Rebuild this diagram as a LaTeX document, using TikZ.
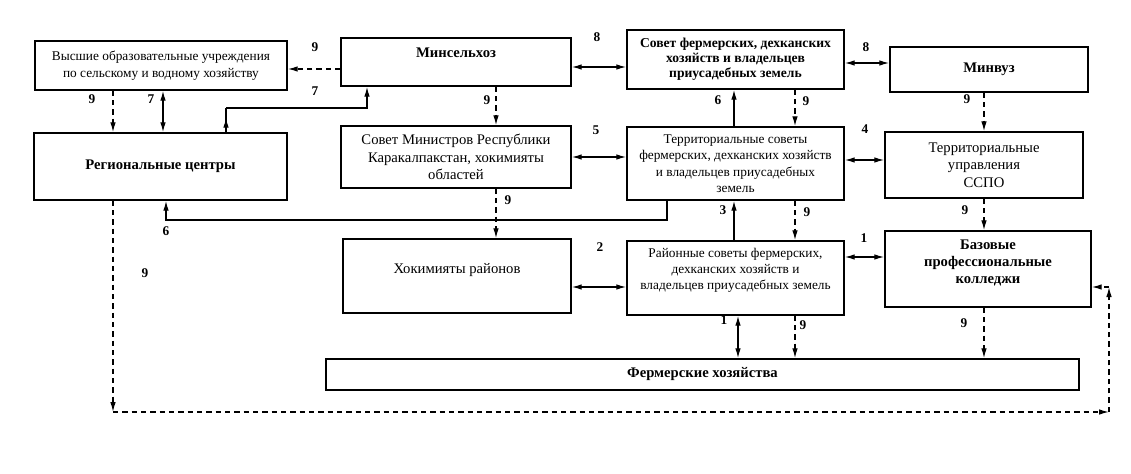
\documentclass[tikz,border=0pt]{standalone}
\usepackage{fontspec}
\setmainfont{Liberation Serif}
\usetikzlibrary{arrows.meta,decorations.markings}
\begin{document}
\begin{tikzpicture}[x=0.75pt,y=-0.75pt,
  box/.style={draw, line width=1.1pt, inner sep=1pt, align=center, font=\fontsize{11}{13}\selectfont},
  sbox/.style={box, font=\fontsize{10}{12.3}\selectfont},
  bbox/.style={box, font=\bfseries\fontsize{11}{12.5}\selectfont},
  txt/.style={inner sep=0pt, align=center, font=\fontsize{11}{13}\selectfont},
  stxt/.style={txt, font=\fontsize{10}{12}\selectfont},
  btxt/.style={txt, font=\bfseries\fontsize{11}{12.5}\selectfont},
  sz/.style args={#1/#2}{minimum width=#1*0.75pt, minimum height=#2*0.75pt},
  num/.style={font=\bfseries\fontsize{10}{12}\selectfont, inner sep=0pt},
  tipk/.tip={Latex[length=7.5pt,width=4.2pt]},
  con/.style={line width=1pt, -tipk},
  dcon/.style={con, dash pattern=on 4pt off 3pt},
  bcon/.style={line width=1pt, tipk-tipk},
  plainln/.style={line width=1pt},
  midarrow/.style={postaction={decorate}, decoration={markings, mark=at position #1 with {\arrow{tipk}}}}
]
\useasboundingbox (0,0) rectangle (1131,474);

% boxes
\node[sbox, sz=252/49] (vys) at (161,65.5) {Высшие образовательные учреждения\\по сельскому и водному хозяйству};
\node[box, sz=230/48] (min) at (456,62) {};
\node[btxt] (minT) at (456,53) {Минсельхоз};
\node[bbox, sz=217/59, font=\bfseries\fontsize{10.2}{11.4}\selectfont] (sf) at (735.5,59.5) {Совет фермерских, дехканских\\хозяйств и владельцев\\приусадебных земель};
\node[bbox, sz=198/45] (mvz) at (989,69.5) {Минвуз};
\node[bbox, sz=253/67] (reg) at (160.5,166.5) {Региональные центры};
\node[box, sz=230/62] (sm) at (456,157) {Совет Министров Республики\\Каракалпакстан, хокимияты\\областей};
\node[sbox, sz=217/73] (ts) at (735.5,163.5) {Территориальные советы\\фермерских, дехканских хозяйств\\и владельцев приусадебных\\земель};
\node[box, sz=198/66] (sspo) at (984,165) {Территориальные\\управления\\ССПО};
\node[box, sz=228/74] (khok) at (457,276) {};
\node[txt] (khokT) at (457,270) {Хокимияты районов};
\node[box, sz=217/74] (rs) at (735.5,278) {};
\node[stxt] (rsT) at (735.5,270) {Районные советы фермерских,\\дехканских хозяйств и\\владельцев приусадебных земель};
\node[box, sz=206/76] (bk) at (988,269) {};
\node[btxt] (bkT) at (988,263) {Базовые\\профессиональные\\колледжи};
\node[bbox, sz=753/31] (fh) at (702.5,374.5) {Фермерские хозяйства};

% helper coordinates
\coordinate (yMV) at (0,69);
\coordinate (yMS) at (0,67);
\coordinate (ySM) at (0,63);
\coordinate (yST) at (0,157);
\coordinate (yTS) at (0,160);
\coordinate (yKR) at (0,287);
\coordinate (yRB) at (0,257);
\coordinate (xA) at (113,0);
\coordinate (xB) at (163,0);
\coordinate (xE) at (496,0);
\coordinate (xF) at (734,0);
\coordinate (xG) at (795,0);
\coordinate (xH) at (984,0);
\coordinate (xK) at (738,0);
\coordinate (c1) at (226,108);
\coordinate (c2) at (367,108);
\coordinate (c3) at (667,220);
\coordinate (c4) at (166,220);
\coordinate (d1) at (113,412);
\coordinate (d2) at (1109,412);
\coordinate (d3) at (1109,287);

% connectors
\draw[dcon] (min.west |- yMV) -- (vys.east |- yMV);
\draw[dcon] (vys.south -| xA) -- (reg.north -| xA);
\draw[bcon] (vys.south -| xB) -- (reg.north -| xB);
\draw[plainln, midarrow=0.6] (reg.north -| c1) -- (c1);
\draw[con] (c1) -- (c2) -- (min.south -| c2);
\draw[bcon] (min.east |- yMS) -- (sf.west |- yMS);
\draw[bcon] (sf.east |- ySM) -- (mvz.west |- ySM);
\draw[dcon] (min.south -| xE) -- (sm.north -| xE);
\draw[bcon] (sm.east |- yST) -- (ts.west |- yST);
\draw[con] (ts.north -| xF) -- (sf.south -| xF);
\draw[dcon] (sf.south -| xG) -- (ts.north -| xG);
\draw[bcon] (ts.east |- yTS) -- (sspo.west |- yTS);
\draw[dcon] (mvz.south -| xH) -- (sspo.north -| xH);
\draw[dcon] (sm.south -| xE) -- (khok.north -| xE);
\draw[con] (ts.south -| c3) -- (c3) -- (c4) -- (reg.south -| c4);
\draw[con] (rs.north -| xF) -- (ts.south -| xF);
\draw[dcon] (ts.south -| xG) -- (rs.north -| xG);
\draw[dcon] (sspo.south -| xH) -- (bk.north -| xH);
\draw[bcon] (khok.east |- yKR) -- (rs.west |- yKR);
\draw[bcon] (rs.east |- yRB) -- (bk.west |- yRB);
\draw[bcon] (rs.south -| xK) -- (fh.north -| xK);
\draw[dcon] (rs.south -| xG) -- (fh.north -| xG);
\draw[dcon] (bk.south -| xH) -- (fh.north -| xH);
\draw[dcon] (reg.south -| d1) -- (d1);
\draw[dcon] (d1) -- (d2);
\draw[dcon] (d2) -- (d3);
\draw[dcon] (d3) -- (bk.east |- d3);

% labels
\node[num] (l1) at (315,47) {9};
\node[num] (l2) at (315,91) {7};
\node[num] (l3) at (92,99) {9};
\node[num] (l4) at (151,99) {7};
\node[num] (l5) at (597,37) {8};
\node[num] (l6) at (487,100) {9};
\node[num] (l7) at (596,130) {5};
\node[num] (l8) at (508,200) {9};
\node[num] (l9) at (866,47) {8};
\node[num] (l10) at (718,100) {6};
\node[num] (l11) at (806,101) {9};
\node[num] (l12) at (967,99) {9};
\node[num] (l13) at (865,129) {4};
\node[num] (l14) at (723,210) {3};
\node[num] (l15) at (807,212) {9};
\node[num] (l16) at (965,210) {9};
\node[num] (l17) at (166,231) {6};
\node[num] (l18) at (145,273) {9};
\node[num] (l19) at (600,247) {2};
\node[num] (l20) at (864,238) {1};
\node[num] (l21) at (724,320) {1};
\node[num] (l22) at (803,325) {9};
\node[num] (l23) at (964,323) {9};
\end{tikzpicture}
\end{document}
